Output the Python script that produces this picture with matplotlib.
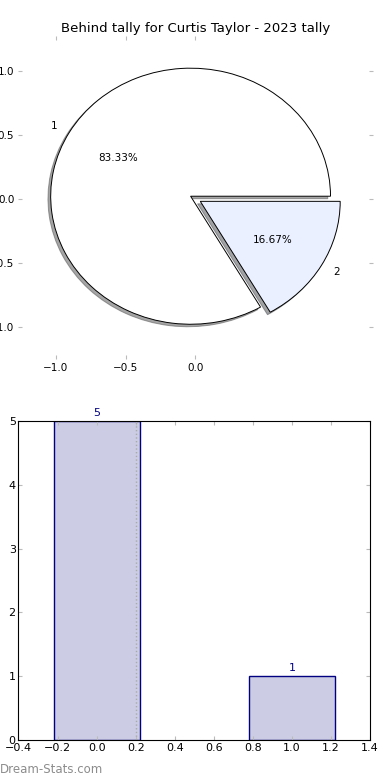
import matplotlib
matplotlib.use("Agg")
import matplotlib.pyplot as plt

labels = ['1', '2']
counts = [5, 1]
pie_colors = ['#ffffff', '#eaf0ff']
bar_x = [0, 1]
bar_color = '#ccccE4'
edge_color = '#000080'
tick_gray = '#bbbbbb'

fig = plt.figure(figsize=(3.9, 7.8), dpi=100)

# pie on top
ax1 = fig.add_axes([0.0564, 0.5449, 0.8897, 0.4038])
ax1.pie(counts, labels=labels, colors=pie_colors, autopct='%.2f%%',
        explode=[0, 0.08], shadow={'ox': -0.014, 'oy': -0.014},
        center=(-0.035, 0.02), frame=True,
        wedgeprops=dict(edgecolor='black', linewidth=0.7),
        textprops=dict(fontsize=7.5))
ax1.set_aspect('auto')
ax1.set_xlim(-1.24, 1.24)
ax1.set_ylim(-1.22, 1.24)
ax1.set_xticks([-1.0, -0.5, 0.0])
ax1.set_yticks([-1.0, -0.5, 0.0, 0.5, 1.0])
for s in ax1.spines.values():
    s.set_visible(False)
ax1.tick_params(colors=tick_gray, labelcolor='black', labelsize=7.5,
                top=True, right=True, length=3, pad=2.5)
ax1.set_title('Behind tally for Curtis Taylor - 2023 tally', fontsize=9.5)

# bar chart below
ax2 = fig.add_axes([0.0474, 0.0513, 0.9013, 0.4090])
ax2.bar(bar_x, counts, width=0.44, color=bar_color, edgecolor=edge_color,
        linewidth=1)
for x, v in zip(bar_x, counts):
    ax2.text(x, v + 0.05, str(v), ha='center', va='bottom', fontsize=8,
             color=edge_color)
ax2.axvline(0.2, ymax=1, color='#aaaaaa', ls=':', lw=1)
ax2.set_xlim(-0.4, 1.4)
ax2.set_ylim(0, 5)
ax2.set_xticks([-0.4, -0.2, 0.0, 0.2, 0.4, 0.6, 0.8, 1.0, 1.2, 1.4])
ax2.set_yticks([0, 1, 2, 3, 4, 5])
ax2.tick_params(direction='in', colors=tick_gray, labelcolor='black',
                labelsize=8, top=True, right=True, length=3, pad=2)

fig.text(0.0, 0.005, 'Dream-Stats.com', color='#8c8c8c', fontsize=8.5,
         ha='left', va='bottom')

fig.savefig('out.png', dpi=100)
